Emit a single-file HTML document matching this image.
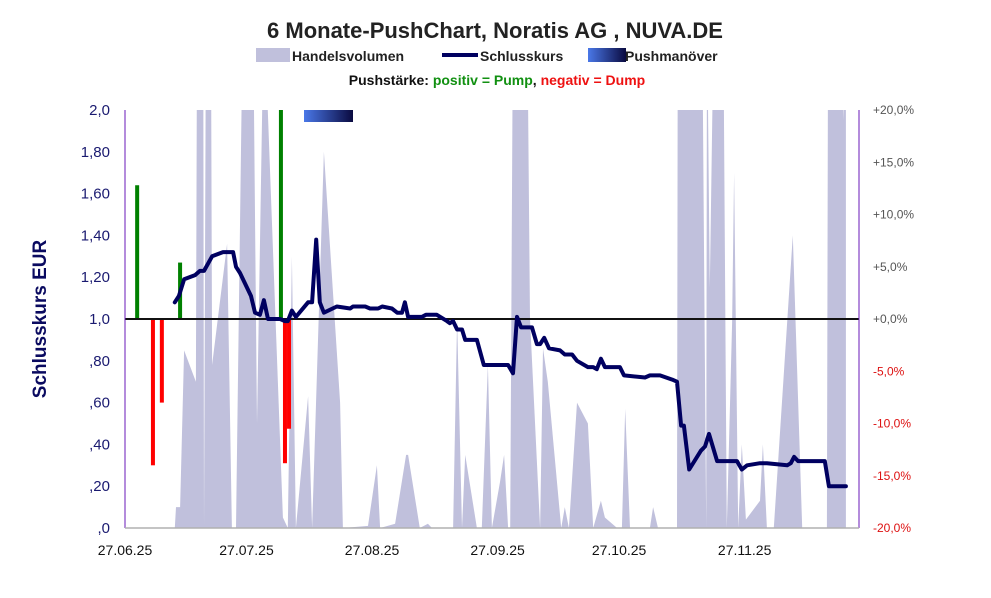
<!DOCTYPE html>
<html><head><meta charset="utf-8"><style>
body{margin:0;background:#fff;font-family:"Liberation Sans",sans-serif}
svg text{font-family:"Liberation Sans",sans-serif}
</style></head><body>
<svg id="c" width="991" height="593" viewBox="0 0 991 593" xmlns="http://www.w3.org/2000/svg">
<defs>
<linearGradient id="pg" x1="0" x2="1" y1="0" y2="0"><stop offset="0" stop-color="#4a78e8"/><stop offset="1" stop-color="#0a0a40"/></linearGradient>
<clipPath id="pc"><rect x="125" y="110" width="734" height="418"/></clipPath>
</defs>
<text x="495" y="38" text-anchor="middle" font-size="22" font-weight="bold" fill="#222">6 Monate-PushChart, Noratis AG , NUVA.DE</text>
<g>
<rect x="256" y="48" width="34" height="14" fill="#c0c0dc"/>
<text x="292" y="61" font-size="14" font-weight="bold" fill="#222">Handelsvolumen</text>
<line x1="442" y1="55" x2="478" y2="55" stroke="#000060" stroke-width="4"/>
<text x="480" y="61" font-size="14" font-weight="bold" fill="#222">Schlusskurs</text>
<rect x="588" y="48" width="38" height="14" fill="url(#pg)"/>
<text x="625" y="61" font-size="14" font-weight="bold" fill="#222">Pushmanöver</text>
<text x="497" y="85" text-anchor="middle" font-size="14" font-weight="bold"><tspan fill="#111">Pushstärke:  </tspan><tspan fill="#119011">positiv = Pump</tspan><tspan fill="#111">,  </tspan><tspan fill="#ee1111">negativ = Dump</tspan></text>
</g>
<text transform="translate(46,319) rotate(-90)" text-anchor="middle" font-size="19" font-weight="bold" fill="#0a0a60">Schlusskurs EUR</text>
<g id="plot" clip-path="url(#pc)"></g>
<g id="axes"></g>
</svg>
<script>
const leftTicks=[0,0.2,0.4,0.6,0.8,1.0,1.2,1.4,1.6,1.8,2.0];
const leftLabels=[",0",",20",",40",",60",",80","1,0","1,20","1,40","1,60","1,80","2,0"];
const rightTicks=[-20,-15,-10,-5,0,5,10,15,20];
const rightLabels=["-20,0%","-15,0%","-10,0%","-5,0%","+0,0%","+5,0%","+10,0%","+15,0%","+20,0%"];
const xTickDays=[0,30,61,92,122,153];
const xTickLabels=["27.06.25","27.07.25","27.08.25","27.09.25","27.10.25","27.11.25"];
const closeDays=[12.3,13.3,14.6,17.3,18.5,19.5,21.5,24.2,26.7,27.4,28.4,31.1,32.1,33.3,34.3,35.3,38.3,39.5,40.2,41.2,42.2,45.2,46.2,47.2,48.1,49.1,52.3,55.6,56.3,59.3,60.5,62.5,63.5,65.9,67.2,68.4,69.1,69.9,73.3,74.3,77.0,79.5,80.2,81.0,82.0,83.2,84.0,86.9,88.6,92.6,94.6,95.8,96.8,97.8,100.5,101.7,102.5,103.5,104.7,107.4,108.6,110.4,111.6,114.3,115.6,116.5,117.5,118.5,122.2,123.2,128.4,129.6,132.1,135.1,136.3,137.3,138.0,139.3,142.2,143.2,144.2,146.2,151.1,152.3,153.6,156.8,158.5,163.5,164.4,165.2,166.2,172.8,173.8,178.0];
const closeValues=[1.08,1.11,1.19,1.21,1.23,1.23,1.30,1.32,1.32,1.25,1.22,1.11,1.03,1.02,1.09,1.00,1.00,0.99,0.99,1.04,1.01,1.08,1.08,1.38,1.08,1.03,1.06,1.05,1.06,1.06,1.05,1.05,1.06,1.05,1.03,1.03,1.08,1.01,1.01,1.02,1.02,0.99,0.98,0.99,0.95,0.95,0.90,0.90,0.78,0.78,0.78,0.74,1.01,0.96,0.96,0.88,0.88,0.91,0.86,0.85,0.83,0.83,0.80,0.77,0.77,0.76,0.81,0.77,0.77,0.73,0.72,0.73,0.73,0.71,0.70,0.49,0.49,0.28,0.37,0.39,0.45,0.32,0.32,0.28,0.30,0.31,0.31,0.30,0.31,0.34,0.32,0.32,0.20,0.20];
const volDays=[12.3,12.6,13.6,14.6,17.5,17.8,19.3,19.5,20.0,21.2,21.5,25.2,26.4,27.4,29.1,31.6,32.6,34.3,39.0,40.2,41.2,42.2,45.2,46.2,49.1,53.1,53.8,60.0,62.2,63.0,66.7,69.4,69.9,72.8,74.8,75.8,81.0,82.0,83.2,84.0,86.9,88.1,89.6,90.6,92.6,93.6,94.6,95.1,95.8,99.3,100.0,102.5,103.2,104.4,107.7,108.6,109.6,111.6,114.3,115.6,117.5,118.5,121.5,122.7,123.5,124.7,129.6,130.4,131.6,136.3,136.5,142.5,143.5,143.7,144.4,145.4,147.7,148.6,149.9,150.4,151.4,152.3,153.3,156.8,157.5,158.5,160.2,164.9,167.2,173.3,173.6,177.0,177.3,178.0];
const volValues=[0,0.1,0.1,0.85,0.7,2.5,2.5,0,2.5,2.5,0.78,1.36,0,0,2.5,2.5,0.5,2.5,0.05,0,1.3,0,0.63,0,1.8,0.6,0,0.01,0.3,0,0.02,0.35,0.35,0,0.02,0,0,1.0,0,0.35,0,0,0.78,0,0.22,0.35,0,0,2.5,2.5,1.0,0,0.86,0.7,0,0.1,0,0.6,0.5,0,0.13,0.05,0,0,0.57,0,0,0.1,0,0,2.5,2.5,0,2.5,1.15,2.5,2.5,0,0.98,1.7,0,0.4,0.04,0.13,0.4,0,0,1.4,0,0,2.5,2.5,1.95,2.5];
const pushDays=[3.0,6.9,9.1,13.6,38.5,39.5,40.5];
const pushValues=[12.8,-14,-8,5.4,20.5,-13.8,-10.5];
const NS="http://www.w3.org/2000/svg";
const X0=125,X1=859,YT=110,YB=528;
const xs=d=>X0+d*4.05;
const ys=v=>YB-(v/2)*(YB-YT);
const yr=p=>319-p*10.45;
const plot=document.getElementById('plot'),axes=document.getElementById('axes');
function mk(tag,at,parent){const e=document.createElementNS(NS,tag);for(const k in at)e.setAttribute(k,at[k]);parent.appendChild(e);return e;}
let vd="M"+xs(volDays[0])+","+YB;
volDays.forEach((d,i)=>{vd+=" L"+xs(d).toFixed(1)+","+ys(volValues[i]).toFixed(1);});
vd+=" L"+xs(volDays[volDays.length-1])+","+YB+" Z";
const va=mk('path',{d:vd,fill:'#c0c0dc'},plot);


pushDays.forEach((d,i)=>{const v=pushValues[i];const y1=yr(Math.max(v,0)),y2=yr(Math.min(v,0));
const b=mk('rect',{x:xs(d)-2,y:y1,width:4,height:y2-y1,fill:v>=0?'#008000':'#ff0000'},plot);

});
const pm=mk('rect',{x:304,y:110,width:49,height:12,fill:'url(#pg)'},plot);


const zl=mk('line',{x1:X0,x2:X1,y1:319,y2:319,stroke:'#111','stroke-width':2},axes);


const cl=mk('polyline',{points:closeDays.map((d,i)=>xs(d).toFixed(1)+","+ys(closeValues[i]).toFixed(1)).join(" "),fill:'none',stroke:'#000060','stroke-width':4,'stroke-linejoin':'round','stroke-linecap':'round'},axes);


const la=mk('line',{x1:X0,x2:X0,y1:YT,y2:YB,stroke:'#6a1ab8','stroke-width':1},axes);


const ra=mk('line',{x1:X1,x2:X1,y1:YT,y2:YB,stroke:'#6a1ab8','stroke-width':1},axes);


const ba=mk('line',{x1:X0,x2:X1,y1:YB,y2:YB,stroke:'#b0b0b0','stroke-width':1.5},axes);


leftTicks.forEach((v,i)=>{const t=mk('text',{x:110,y:ys(v)+5,'text-anchor':'end','font-size':15,fill:'#1a1a70'},axes);t.textContent=leftLabels[i];

});
rightTicks.forEach((v,i)=>{const t=mk('text',{x:873,y:yr(v)+4,'font-size':12,fill:v<0?'#dd1111':'#555'},axes);t.textContent=rightLabels[i];

});
xTickDays.forEach((d,i)=>{const t=mk('text',{x:xs(d),y:555,'text-anchor':'middle','font-size':14,fill:'#111'},axes);t.textContent=xTickLabels[i];

});
</script>
</body></html>
